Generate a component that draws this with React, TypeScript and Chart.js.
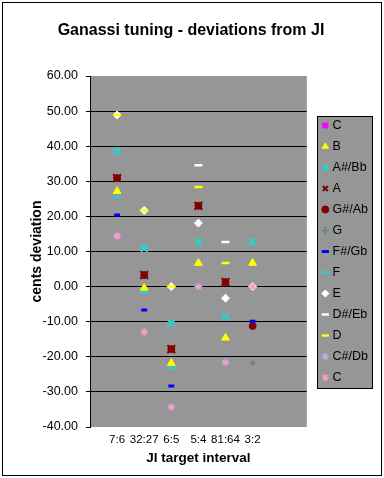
import React, { useEffect, useRef } from 'react';
import { Chart, registerables } from 'chart.js';

Chart.register(...registerables);

// ---- data ----
const intervals = ['7:6', '32:27', '6:5', '5:4', '81:64', '3:2'];
const seriesNames = ['C', 'B', 'A#/Bb', 'A', 'G#/Ab', 'G', 'F#/Gb', 'F', 'E', 'D#/Eb', 'D', 'C#/Db', 'C'];

const cHigh: (number | null)[] = [null, null, null, null, null, null];
const bVals: (number | null)[] = [27.2, -0.4, -21.8, 6.7, -14.6, 6.7];
const aSharpVals: (number | null)[] = [38.6, 11.0, -10.4, 12.7, -8.6, 12.7];
const aVals: (number | null)[] = [30.9, 3.3, -17.8, 23.0, 1.3, null];
const gSharpVals: (number | null)[] = [30.9, 3.3, -17.8, 23.0, 1.3, -11.2];
const gVals: (number | null)[] = [null, null, null, null, null, -21.8];
const fSharpVals: (number | null)[] = [20.4, -6.7, -28.3, 18.1, -3.3, -9.9];
const fVals: (number | null)[] = [25.6, -1.6, -23.2, 0.0, -21.6, null];
const eVals: (number | null)[] = [48.9, 21.7, 0.0, 18.1, -3.3, 0.0];
const dSharpVals: (number | null)[] = [null, null, null, 34.6, 12.7, null];
const dVals: (number | null)[] = [48.9, 21.7, 0.0, 28.4, 6.7, null];
const cSharpVals: (number | null)[] = [14.4, -12.9, -34.3, 0.0, -21.6, 0.0];
const cLow: (number | null)[] = [14.4, -12.9, -34.3, 0.0, -21.6, 0.0];

const seriesValues = [cHigh, bVals, aSharpVals, aVals, gSharpVals, gVals, fSharpVals, fVals, eVals, dSharpVals, dVals, cSharpVals, cLow];

const yMin = -40;
const yMax = 60;
const yStep = 10;

// ---- styles ----
const markerStyles = ['rect', 'triangle', 'crossRot', 'crossRot', 'circle', 'cross', 'line', 'line', 'rectRot', 'line', 'line', 'star', 'star'];
const markerColors = ['#FF00FF', '#FFFF00', '#33CCCC', '#800000', '#800000', '#5F8585', '#0000FF', '#33CCCC', '#FFFFFF', '#FFFFFF', '#FFFF00', '#B8B0E8', '#FF99CC'];
const markerRadii = [3, 4.5, 5, 5.5, 3.5, 3, 3, 4, 4, 4, 4, 3.5, 3.5];
const markerBorders = [1, 1, 2.5, 2, 1, 1.5, 3, 3, 1, 2.5, 2.5, 1.2, 1.2];

const FAMILY = "'Liberation Sans', Arial, sans-serif";
const PLOT_GRAY = '#969696';

const backgroundPlugin = {
  id: 'excelBackground',
  beforeDraw(chart: any) {
    const { ctx, chartArea, width, height } = chart;
    ctx.save();
    ctx.fillStyle = '#FFFFFF';
    ctx.fillRect(0, 0, width, height);
    ctx.strokeStyle = '#000000';
    ctx.lineWidth = 1;
    ctx.strokeRect(2.5, 2.5, width - 5, height - 5);
    ctx.fillStyle = PLOT_GRAY;
    ctx.fillRect(chartArea.left, chartArea.top, chartArea.right - chartArea.left, chartArea.bottom - chartArea.top);
    const lg = chart.legend;
    if (lg && lg.legendHitBoxes && lg.legendHitBoxes.length) {
      const hb = lg.legendHitBoxes;
      const left = Math.round(Math.min(...hb.map((h: any) => h.left)) - 7) + 0.5;
      const right = Math.round(Math.max(...hb.map((h: any) => h.left + h.width)) + 4) + 0.5;
      const top = Math.round(Math.min(...hb.map((h: any) => h.top)) - 3) + 0.5;
      const bottom = Math.round(Math.max(...hb.map((h: any) => h.top + h.height)) + 4) + 0.5;
      ctx.fillStyle = PLOT_GRAY;
      ctx.fillRect(left, top, right - left, bottom - top);
      ctx.strokeStyle = '#000000';
      ctx.strokeRect(left, top, right - left, bottom - top);
    }
    ctx.restore();
  },
};

export default function App() {
  const canvasRef = useRef<HTMLCanvasElement>(null);

  useEffect(() => {
    if (!canvasRef.current) return;
    const n = seriesNames.length;
    const datasets = seriesNames.map((name, i) => ({
      label: name,
      data: seriesValues[i].flatMap((v, j) => (v === null ? [] : [{ x: j + 1, y: v }])),
      yAxisID: 'y',
      showLine: false,
      order: n - i,
      pointStyle: markerStyles[i] as any,
      pointRadius: markerRadii[i],
      pointHoverRadius: markerRadii[i],
      pointBorderWidth: markerBorders[i],
      pointBackgroundColor: markerColors[i],
      pointBorderColor: markerColors[i],
      backgroundColor: markerColors[i],
      borderColor: markerColors[i],
    }));

    const chart = new Chart(canvasRef.current, {
      type: 'scatter',
      data: { datasets },
      plugins: [backgroundPlugin],
      options: {
        animation: false,
        responsive: false,
        maintainAspectRatio: false,
        devicePixelRatio: 1,
        color: '#000',
        font: { family: FAMILY },
        layout: { padding: { top: 4, left: 4, right: 6, bottom: 8 } },
        scales: {
          x: {
            type: 'linear',
            min: 0,
            max: intervals.length + 2,
            afterBuildTicks: (s: any) => {
              s.ticks = intervals.map((_, i) => ({ value: i + 1 }));
            },
            ticks: {
              autoSkip: false,
              maxRotation: 0,
              padding: 6,
              color: '#000',
              font: { family: FAMILY, size: 11.5 },
              callback: (_v: any, idx: number) => intervals[idx] ?? '',
            },
            grid: { display: false, drawTicks: false },
            border: { display: false },
            title: {
              display: true,
              text: 'JI target interval',
              color: '#000',
              font: { family: FAMILY, size: 13.5, weight: 'bold' },
              padding: { top: 3, bottom: 4 },
            },
            afterFit: (s: any) => {
              s.height = 43;
            },
          },
          y: {
            type: 'linear',
            position: 'left',
            min: yMin,
            max: yMax,
            ticks: {
              stepSize: yStep,
              padding: 8,
              color: '#000',
              font: { family: FAMILY, size: 12.5 },
              callback: (v: any) => Number(v).toFixed(2),
            },
            grid: {
              color: (c: any) =>
                c.tick && (c.tick.value === yMax || c.tick.value === yMin) ? 'rgba(0,0,0,0)' : '#000000',
              lineWidth: 1,
              drawTicks: true,
              tickLength: 4,
              tickColor: '#000000',
            },
            border: { display: true, color: '#000000', width: 1 },
            title: {
              display: true,
              text: 'cents deviation',
              color: '#000',
              font: { family: FAMILY, size: 14, weight: 'bold' },
              padding: { top: 24.6, bottom: 0 },
            },
            afterFit: (s: any) => {
              s.width = 86;
            },
          },
          y2: {
            type: 'linear',
            position: 'right',
            display: true,
            ticks: { display: false },
            grid: { display: false, drawTicks: false },
            border: { display: false },
            afterFit: (s: any) => {
              s.width = 9;
            },
          },
        },
        plugins: {
          title: {
            display: true,
            text: 'Ganassi tuning - deviations from JI',
            color: '#000',
            font: { family: FAMILY, size: 16, weight: 'bold' },
            padding: { top: 17.4, bottom: 35.4 },
          },
          legend: {
            display: true,
            position: 'right',
            fullSize: false,
            align: 'center',
            labels: {
              usePointStyle: true,
              boxWidth: 2,
              boxHeight: 5,
              padding: 8.5,
              color: '#000',
              font: { family: FAMILY, size: 12.5 },
              sort: (a: any, b: any) => a.datasetIndex - b.datasetIndex,
            },
          },
          tooltip: { enabled: false },
        },
      } as any,
    });

    return () => chart.destroy();
  }, []);

  return (
    <div style={{ position: 'absolute', left: 0, top: 0, width: 384, height: 478 }}>
      <canvas ref={canvasRef} width={384} height={478} style={{ display: 'block', width: 384, height: 478 }} />
    </div>
  );
}
